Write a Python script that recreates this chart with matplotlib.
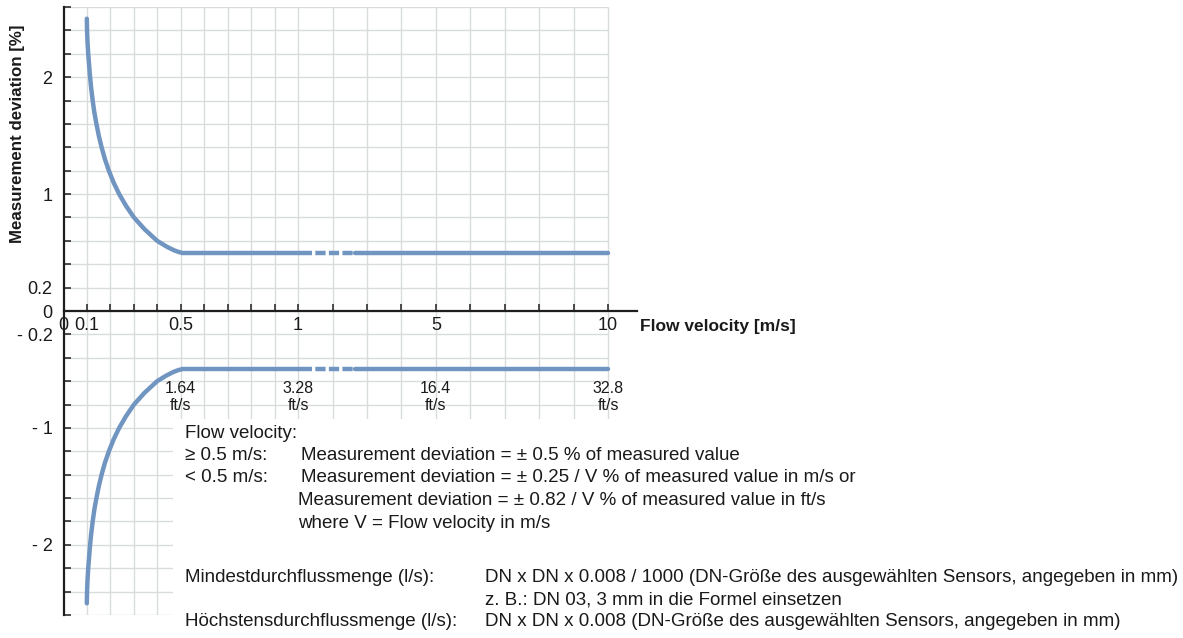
import numpy as np
import matplotlib
matplotlib.use('Agg')
import matplotlib.pyplot as plt
from matplotlib.ticker import FixedLocator, FixedFormatter
from matplotlib.patches import Rectangle

plt.rcParams['font.family'] = ['Liberation Sans', 'DejaVu Sans']

# ---- values ----
# upper branch (the lower branch mirrors it)
velocity_curve = [0.099, 0.100, 0.102, 0.105, 0.109, 0.113, 0.118, 0.124, 0.131,
                  0.140, 0.150, 0.162, 0.176, 0.193, 0.213, 0.237, 0.266, 0.300,
                  0.345, 0.399, 0.440, 0.470, 0.490, 0.500]
deviation_curve = [2.50, 2.40, 2.30, 2.20, 2.10, 2.00, 1.90, 1.80, 1.70,
                   1.60, 1.50, 1.40, 1.30, 1.20, 1.10, 1.00, 0.90, 0.80,
                   0.70, 0.60, 0.55, 0.52, 0.505, 0.50]
flat_deviation = 0.5
flat_start, break_start, break_end, flat_end = 0.5, 1.4, 2.65, 10.0

x_grid = [0.1, 0.2, 0.3, 0.4, 0.5, 0.6, 0.7, 0.8, 0.9, 1, 2, 3, 4, 5, 6, 7, 8, 9, 10]
x_label_pos = [0, 0.1, 0.5, 1, 5, 10]
x_label_txt = ['0', '0.1', '0.5', '1', '5', '10']
y_grid = [round(-2.6 + 0.2 * i, 1) for i in range(27)]
y_label_pos = [2, 1, 0.2, 0, -0.2, -1, -2]
y_label_txt = ['2', '1', '0.2', '0', '- 0.2', '- 1', '- 2']
ft_pos = [0.5, 1, 5, 10]
ft_txt = ['1.64', '3.28', '16.4', '32.8']

LINE = '#7195c1'
GRID = '#d9dcdd'
W, H = 1183, 638
LW = 3.2

# piecewise axis: 0..1 in steps of 0.1, then 1..10 with wider steps
K = 1.469
xp = [-10, 0, 1, 20]
pp = [-100, 0, 10, 10 + 19 * K]


def fwd(v):
    return np.interp(v, xp, pp)


def inv(p):
    return np.interp(p, pp, xp)


fig = plt.figure(figsize=(W / 100, H / 100), dpi=100, facecolor='w')
ax = fig.add_axes([63.6 / W, 1 - 615 / H, 573.4 / W, 608 / H])
ax.set_xscale('function', functions=(fwd, inv))
ax.set_xlim(0, 10.84)
ax.set_ylim(-2.6, 2.6)

# grid (stops at x = 10)
ax.hlines(y_grid, 0, 10, color=GRID, lw=1.0, zorder=0)
ax.vlines(x_grid, -2.6, 2.6, color=GRID, lw=1.0, zorder=0)
# blank area under the notes
ax.add_patch(Rectangle((0.466, -2.7), 11, 1.78, facecolor='w', edgecolor='none', zorder=1))

# curves
for sgn in (1, -1):
    ax.plot(velocity_curve, [sgn * d for d in deviation_curve], color=LINE, lw=LW,
            solid_capstyle='round', solid_joinstyle='round', zorder=3)
    ax.plot([flat_start, break_start], [sgn * flat_deviation] * 2, color=LINE, lw=LW,
            solid_capstyle='butt', zorder=3)
    ax.plot([break_start, break_end], [sgn * flat_deviation] * 2, color=LINE, lw=LW,
            linestyle=(2.3, (2.3, 0.75)), dash_capstyle='butt', zorder=3)
    ax.plot([break_end, flat_end], [sgn * flat_deviation] * 2, color=LINE, lw=LW,
            solid_capstyle='round', zorder=3)

# spines
for s in ('top', 'right'):
    ax.spines[s].set_visible(False)
ax.spines['bottom'].set_position(('data', 0))
for s in ('left', 'bottom'):
    ax.spines[s].set_linewidth(1.6)
    ax.spines[s].set_color('#1e1e1e')
    ax.spines[s].set_zorder(4)

# ticks
ax.xaxis.set_major_locator(FixedLocator(x_label_pos))
ax.xaxis.set_major_formatter(FixedFormatter(x_label_txt))
ax.xaxis.set_minor_locator(FixedLocator([v for v in x_grid if v not in x_label_pos]))
ax.yaxis.set_major_locator(FixedLocator(y_label_pos))
ax.yaxis.set_major_formatter(FixedFormatter(y_label_txt))
ax.yaxis.set_minor_locator(FixedLocator([v for v in y_grid if v not in y_label_pos]))
ax.tick_params(which='both', direction='in', length=5, width=1.1, color='#1e1e1e')
ax.tick_params(axis='x', which='major', pad=4, labelsize=13, labelcolor='#1a1a1a')
ax.tick_params(axis='y', which='major', pad=8, labelsize=13, labelcolor='#1a1a1a')

fig.text(18 / W, 1 - 243 / H, 'Measurement deviation [%]', rotation=90, ha='center',
         va='bottom', fontsize=12.2, fontweight='bold', color='#1a1a1a')
ax.set_xlabel('Flow velocity [m/s]', fontsize=12.5, fontweight='bold', ha='left',
              va='center', color='#1a1a1a')
ax.xaxis.set_label_coords(1.005, 0.474)

# ft/s equivalents under the lower branch
for xv, t in zip(ft_pos, ft_txt):
    ax.text(xv, -0.6, t + '\nft/s', ha='center', va='top', fontsize=11.5,
            linespacing=1.15, color='#1a1a1a', zorder=5)


def put(x, y, s, **kw):
    fig.text(x / W, 1 - y / H, s, va='center', fontsize=13.5, color='#1a1a1a', **kw)


put(185, 433, 'Flow velocity:')
put(185, 455.5, '≥ 0.5 m/s:')
put(301, 455.5, 'Measurement deviation = ± 0.5 % of measured value')
put(185, 478, '< 0.5 m/s:')
put(301, 478, 'Measurement deviation = ± 0.25 / V % of measured value in m/s or')
put(298, 500.5, 'Measurement deviation = ± 0.82 / V % of measured value in ft/s')
put(298, 523, 'where V = Flow velocity in m/s')

put(185, 578, 'Mindestdurchflussmenge (l/s):')
put(485, 578, 'DN x DN x 0.008 / 1000 (DN-Größe des ausgewählten Sensors, angegeben in mm)')
put(485, 600, 'z. B.: DN 03, 3 mm in die Formel einsetzen')
put(185, 622, 'Höchstensdurchflussmenge (l/s):')
put(485, 622, 'DN x DN x 0.008 (DN-Größe des ausgewählten Sensors, angegeben in mm)')

fig.savefig('out.png', dpi=100, facecolor='w')
